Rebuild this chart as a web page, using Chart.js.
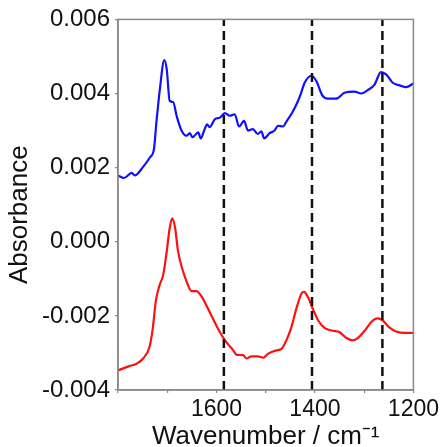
<!DOCTYPE html>
<html>
<head>
<meta charset="utf-8">
<script src="https://cdn.jsdelivr.net/npm/chart.js@4"></script>
<style>
html,body{margin:0;padding:0;background:#fff;}
#wrap{width:442px;height:447px;position:relative;}
</style>
</head>
<body>
<div id="wrap"><canvas id="c" width="442" height="447"></canvas></div>
<script>
// Wavenumbers (cm-1) and absorbance values
const blueWavenumbers = [1800,1788,1772,1766,1749,1735,1727,1722,1715,1706,1701,1695,1688,1681,1671,1661,1654,1649,1637,1632,1624,1619,1614,1603,1593,1583,1573,1563,1554,1544,1536,1526,1516,1509,1503,1492,1482,1475,1465,1457,1446,1436,1428,1421,1407,1397,1385,1374,1357,1340,1320,1306,1293,1279,1266,1255,1242,1228,1215,1200];
const blueAbsorbance = [0.00179,0.00172,0.00186,0.00179,0.00202,0.00228,0.0025,0.00322,0.00411,0.0049,0.00465,0.0038,0.00377,0.0034,0.003,0.00286,0.00293,0.00282,0.00295,0.00279,0.00304,0.00317,0.00309,0.00331,0.00335,0.00347,0.0034,0.00344,0.00311,0.00326,0.003,0.00304,0.00291,0.00298,0.00279,0.00293,0.003,0.00313,0.00311,0.00326,0.00349,0.00375,0.00402,0.00429,0.00448,0.00433,0.00395,0.00386,0.00386,0.00402,0.00405,0.004,0.00409,0.00424,0.00458,0.00451,0.00429,0.00422,0.00417,0.00427];
const redWavenumbers = [1800,1776,1762,1749,1736,1730,1723,1716,1708,1701,1695,1690,1684,1678,1669,1661,1651,1641,1631,1620,1607,1593,1580,1566,1559,1546,1539,1529,1516,1505,1495,1478,1468,1458,1448,1437,1427,1422,1414,1404,1393,1380,1364,1350,1337,1323,1313,1299,1286,1273,1262,1249,1235,1218,1200];
const redAbsorbance = [-0.00347,-0.00335,-0.00329,-0.00315,-0.00284,-0.0024,-0.00159,-0.00119,-0.00088,-0.00026,0.00037,0.00063,0.00037,-0.00026,-0.00075,-0.00106,-0.00133,-0.00133,-0.00146,-0.00173,-0.00208,-0.00244,-0.00271,-0.00293,-0.00305,-0.00306,-0.00315,-0.00309,-0.00309,-0.00313,-0.00302,-0.00293,-0.00289,-0.00266,-0.00231,-0.00177,-0.00139,-0.00135,-0.0015,-0.00182,-0.00213,-0.00233,-0.0024,-0.00244,-0.00259,-0.00266,-0.0026,-0.0024,-0.00217,-0.00207,-0.00213,-0.00231,-0.00242,-0.00246,-0.00246];
const markerWavenumbers = [1585, 1406, 1263];
const xTickLabels = [1600, 1400, 1200];
const yTickValues = [-0.004, -0.002, 0.000, 0.002, 0.004, 0.006];
const yRange = [-0.004, 0.006];
const xRange = [1200, 1800];
const yTitle = 'Absorbance';
const xTitle = 'Wavenumber / cm\u207B\u00B9';

const toPts = (xs, ys) => xs.map((x, i) => ({x: x, y: ys[i]}));

const datasets = [];
markerWavenumbers.forEach(w => {
  datasets.push({
    data: [{x: w, y: yRange[0]}, {x: w, y: yRange[1]}],
    borderColor: '#111111', borderWidth: 2.5, borderDash: [9, 5],
    pointRadius: 0, fill: false, tension: 0
  });
});
datasets.push({
  data: toPts(blueWavenumbers, blueAbsorbance),
  borderColor: '#1010ff', borderWidth: 2.2, pointRadius: 0, fill: false,
  cubicInterpolationMode: 'monotone'
});
datasets.push({
  data: toPts(redWavenumbers, redAbsorbance),
  borderColor: '#ff1010', borderWidth: 2.2, pointRadius: 0, fill: false,
  cubicInterpolationMode: 'monotone'
});

const FONT = "'Liberation Sans', Arial, sans-serif";

const frame = {
  id: 'frame',
  afterDraw(chart) {
    const a = chart.chartArea, ctx = chart.ctx;
    ctx.save();
    ctx.strokeStyle = '#8a8a8a';
    ctx.lineWidth = 1.5;
    ctx.strokeRect(a.left, a.top, a.right - a.left, a.bottom - a.top);
    // y-axis title
    ctx.fillStyle = '#111';
    ctx.font = "26px " + FONT;
    ctx.textAlign = 'center';
    ctx.textBaseline = 'middle';
    ctx.translate(20, (a.top + a.bottom) / 2 + 10);
    ctx.rotate(-Math.PI / 2);
    ctx.fillText(yTitle, 0, 0);
    ctx.restore();
  }
};

new Chart(document.getElementById('c'), {
  type: 'line',
  data: { datasets: datasets },
  plugins: [frame],
  options: {
    responsive: false,
    animation: false,
    layout: { padding: { left: 0, right: 28, top: 16, bottom: 0 } },
    plugins: { legend: { display: false }, tooltip: { enabled: false } },
    scales: {
      x: {
        type: 'linear', reverse: true, min: xRange[0], max: xRange[1],
        afterFit(s) { s.height = 57; },
        border: { display: true, color: '#8a8a8a', width: 1.5 },
        grid: { display: true, drawOnChartArea: false, drawTicks: true, tickLength: 3, color: '#8a8a8a', lineWidth: 1.2 },
        ticks: {
          stepSize: 100, autoSkip: false, maxRotation: 0, padding: 3,
          color: '#111', font: { family: FONT, size: 23 },
          callback: (v) => xTickLabels.includes(v) ? String(v) : ''
        },
        title: {
          display: true, text: xTitle, color: '#111',
          font: { family: FONT, size: 26 }, padding: { top: 1, bottom: -5 }
        }
      },
      y: {
        type: 'linear', min: yRange[0], max: yRange[1],
        afterFit(s) { s.width = 118; },
        afterBuildTicks(s) { s.ticks = yTickValues.map(v => ({value: v})); },
        border: { display: true, color: '#8a8a8a', width: 1.5 },
        grid: { display: true, drawOnChartArea: false, drawTicks: true, tickLength: 3, color: '#8a8a8a', lineWidth: 1.2 },
        ticks: {
          padding: 5, color: '#111', font: { family: FONT, size: 24 },
          callback: (v) => v.toFixed(3)
        },
        title: { display: false }
      }
    }
  }
});
</script>
</body>
</html>
